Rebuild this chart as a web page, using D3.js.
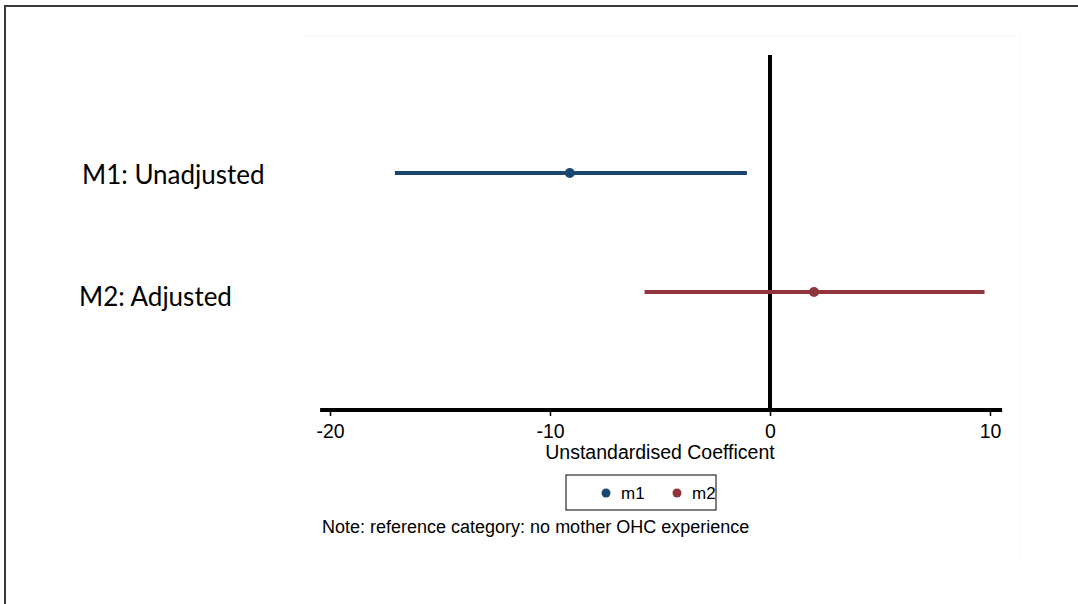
<!DOCTYPE html>
<html>
<head>
<meta charset="utf-8">
<script src="https://cdn.jsdelivr.net/npm/d3@7"></script>
<style>
  html, body { margin: 0; padding: 0; background: #fff; }
  svg { display: block; }
</style>
</head>
<body>
<svg id="chart" width="1078" height="604"></svg>
<script>
// Model estimates (unstandardised coefficients with 95% CIs)
const models = ["M1: Unadjusted", "M2: Adjusted"];
const seriesKeys = ["m1", "m2"];
const estimates = [-9.1, 2.0];
const lower = [-17.05, -5.7];
const upper = [-1.05, 9.75];
const colors = ["#1a476f", "#90353b"];
const xTicks = [-20, -10, 0, 10];
const xTitle = "Unstandardised Coefficent";
const note = "Note: reference category: no mother OHC experience";

const svg = d3.select("#chart");
const sans = "Liberation Sans, Arial, sans-serif";

// Slide frame
svg.append("rect")
  .attr("x", 5).attr("y", 6).attr("width", 1200).attr("height", 800)
  .attr("fill", "none").attr("stroke", "#3a3a3a").attr("stroke-width", 2);

// Faint edge of the embedded graph region
svg.append("path")
  .attr("d", "M302,36 H1020 V560")
  .attr("fill", "none").attr("stroke", "#f7f7f7").attr("stroke-width", 1);

const x = d3.scaleLinear().domain([-20, 10]).range([330, 990]);
const y = d3.scalePoint().domain(models).range([173, 292]);

const axisY = 410;

// Zero reference line
svg.append("line")
  .attr("x1", x(0)).attr("x2", x(0))
  .attr("y1", 55).attr("y2", axisY)
  .attr("stroke", "#000").attr("stroke-width", 4);

// x axis
const axis = svg.append("g")
  .attr("transform", `translate(0,${axisY})`)
  .call(d3.axisBottom(x).tickValues(xTicks).tickSize(6).tickSizeOuter(0)
    .tickFormat(d => String(d)));
axis.select(".domain").remove();
axis.selectAll(".tick line").attr("stroke", "#000").attr("stroke-width", 1.5);
axis.selectAll(".tick text")
  .attr("font-family", sans)
  .attr("font-size", 19.5).attr("fill", "#000")
  .attr("y", 12).attr("dy", "0.8em");
svg.append("line")
  .attr("x1", x(-20.45)).attr("x2", x(10.55))
  .attr("y1", axisY).attr("y2", axisY)
  .attr("stroke", "#000").attr("stroke-width", 4);

svg.append("text")
  .attr("x", x(-5)).attr("y", 459)
  .attr("text-anchor", "middle")
  .attr("font-family", sans)
  .attr("font-size", 19.5).attr("fill", "#000")
  .text(xTitle);

// CI bars and point estimates
const rows = models.map((m, i) => ({ m, est: estimates[i], lo: lower[i], hi: upper[i], c: colors[i] }));
svg.selectAll("line.ci").data(rows).join("line")
  .attr("class", "ci")
  .attr("x1", d => x(d.lo)).attr("x2", d => x(d.hi))
  .attr("y1", d => y(d.m)).attr("y2", d => y(d.m))
  .attr("stroke", d => d.c).attr("stroke-width", 4);
svg.selectAll("circle.est").data(rows).join("circle")
  .attr("class", "est")
  .attr("cx", d => x(d.est)).attr("cy", d => y(d.m)).attr("r", 5)
  .attr("fill", d => d.c);

// Row labels
svg.selectAll("text.row").data(rows).join("text")
  .attr("class", "row")
  .attr("x", (d, i) => i === 0 ? 82 : 79)
  .attr("y", (d, i) => y(d.m) + (i === 0 ? 11 : 14))
  .attr("font-family", "Lato, Carlito, sans-serif")
  .attr("font-size", 26).attr("fill", "#000")
  .text(d => d.m);

// Legend
const lg = svg.append("g");
lg.append("rect")
  .attr("x", 566).attr("y", 475).attr("width", 150).attr("height", 35)
  .attr("fill", "#fff").attr("stroke", "#000").attr("stroke-width", 1);
const items = [{ k: seriesKeys[0], c: colors[0], x: 606 }, { k: seriesKeys[1], c: colors[1], x: 677 }];
items.forEach(it => {
  lg.append("circle").attr("cx", it.x).attr("cy", 493).attr("r", 4.5).attr("fill", it.c);
  lg.append("text")
    .attr("x", it.x + 15).attr("y", 498.5)
    .attr("font-family", sans)
    .attr("font-size", 17).attr("fill", "#000")
    .text(it.k);
});

// Note
svg.append("text")
  .attr("x", 322).attr("y", 533)
  .attr("font-family", sans)
  .attr("font-size", 18).attr("fill", "#000")
  .text(note);
</script>
</body>
</html>
